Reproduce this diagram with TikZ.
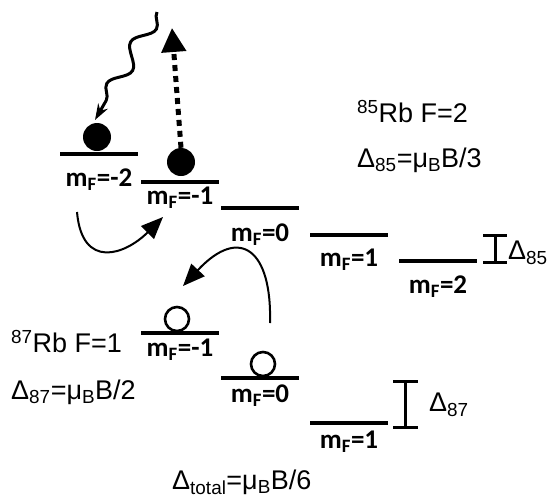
\documentclass[tikz,border=0pt]{standalone}
\usepackage{fontspec}
\setmainfont{Liberation Sans}
\newfontfamily\mffont{Carlito}
\usetikzlibrary{arrows.meta,decorations.pathmorphing}

\begin{document}
\begin{tikzpicture}[x=1pt, y=-1pt,
    lvl/.style={line width=3.5pt},
    mfStyle/.style={font=\mffont\fontsize{27}{29}\selectfont\bfseries, inner sep=0pt},
    txt/.style={font=\fontsize{27}{30}\selectfont, inner sep=0pt, anchor=west},
    full/.style={circle, fill=black, minimum size=28pt, inner sep=0pt},
    empty/.style={circle, draw, line width=2.6pt, fill=white, minimum size=24pt, inner sep=0pt},
    transfer/.style={line width=2pt, -{Triangle[length=22pt, width=18pt]}}]
    \useasboundingbox (0,0) rectangle (552,499);

    % 85Rb F=2
    \foreach \x/\y/\d/\m [count=\i] in {99/154/26/-2, 180/182/16/-1, 260/208/27/0, 349/235/25/1, 438/261/26/2}{
        \draw[lvl] (\x-39,\y) coordinate (l\i) -- (\x+39,\y) coordinate (r\i);
        \node[mfStyle] (a\i) at (\x,\y+\d) {m\textsubscript{F}=\m};
    }
    % 87Rb F=1
    \foreach \x/\y/\d/\m [count=\i] in {180/333/17/-1, 260/378/18/0, 349/423/19/1}{
        \draw[lvl] (\x-39,\y) coordinate (p\i) -- (\x+39,\y) coordinate (q\i);
        \node[mfStyle] (b\i) at (\x,\y+\d) {m\textsubscript{F}=\m};
    }

    \node[full] (atom1) at (97,137) {};
    \node[full] (atom2) at (181,162) {};
    \node[empty] (hole1) at (177,319) {};
    \node[empty] (hole2) at (263,364) {};

    % photons
    \coordinate (w0) at (157,12);
    \coordinate (w1) at (95,120);
    \draw[line width=3pt, decorate, decoration={snake, amplitude=8pt, segment length=48pt, post length=14pt},
        -{Stealth[length=16pt, width=11pt]}] (w0) -- (w1);
    \coordinate (up) at (172,28);
    \draw[line width=5pt, dash pattern=on 6pt off 5pt, -{Triangle[length=24pt, width=24pt]}] (atom2.north) -- (up);

    % transfers
    \coordinate (c1) at (77,212);
    \coordinate (c2) at (163,217);
    \draw[transfer] (c1) .. controls (82,270) and (125,255) .. (c2);
    \coordinate (c3) at (270,323);
    \coordinate (c4) at (183,286);
    \draw[transfer] (c3) .. controls (272,250) and (240,225) .. (c4);

    % splittings
    \draw[line width=3pt] (483,235) -- (507,235) (495,235) -- (495,262) (483,262) -- (507,262);
    \node[txt] (d85) at (508,253) {Δ\textsubscript{85}};
    \draw[line width=3pt] (393,381) -- (418,381) (405,381) -- (405,427) (393,427) -- (418,427);
    \node[txt] (d87) at (429,405) {Δ\textsubscript{87}};

    \node[txt] (rb85) at (357,112) {\textsuperscript{85}Rb F=2};
    \node[txt] (e85) at (357,160) {Δ\textsubscript{85}=μ\textsubscript{B}B/3};
    \node[txt] (rb87) at (11,342) {\textsuperscript{87}Rb F=1};
    \node[txt] (e87) at (11,392) {Δ\textsubscript{87}=μ\textsubscript{B}B/2};
    \node[txt] (etot) at (172,482) {Δ\textsubscript{total}=μ\textsubscript{B}B/6};
\end{tikzpicture}
\end{document}
